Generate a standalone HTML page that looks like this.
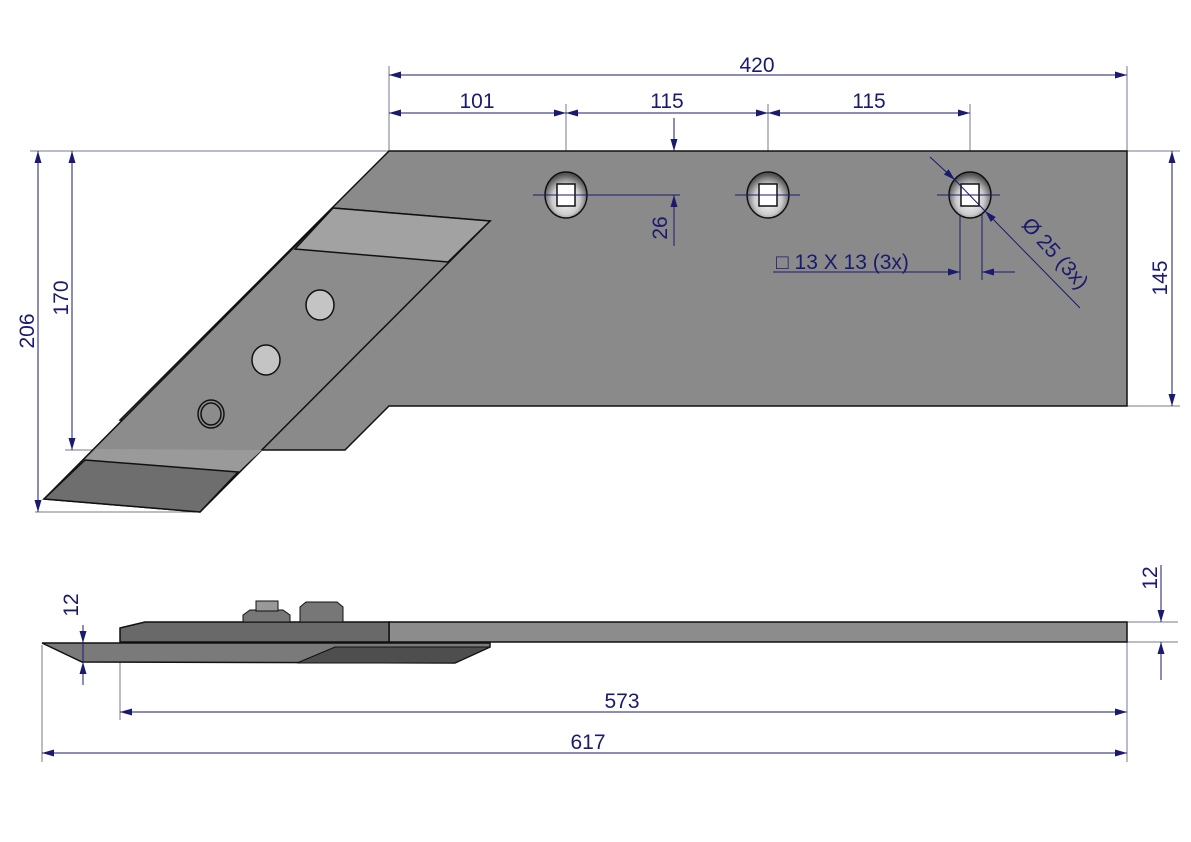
<!DOCTYPE html>
<html><head><meta charset="utf-8"><style>
html,body{margin:0;padding:0;background:#fff}
svg{display:block}
text{font-family:"Liberation Sans",sans-serif;font-size:21px;fill:#1a1a6e}
</style></head><body>
<svg width="1191" height="842" viewBox="0 0 1191 842" xmlns="http://www.w3.org/2000/svg">
<defs>
<marker id="a" viewBox="0 0 12 7" refX="12" refY="3.5" markerWidth="12" markerHeight="7" orient="auto-start-reverse" markerUnits="userSpaceOnUse"><path d="M0,0L12,3.5L0,7z" fill="#1a1a6e"/></marker>
<radialGradient id="h" cx="50%" cy="60%" r="55%"><stop offset="0" stop-color="#fff"/><stop offset="0.6" stop-color="#ccc"/><stop offset="1" stop-color="#555"/></radialGradient>
</defs>
<g stroke="#7a7a90" stroke-width="1" fill="none">
<line x1="389" y1="66" x2="389" y2="151"/><line x1="1127" y1="66" x2="1127" y2="151"/>
<line x1="566" y1="104" x2="566" y2="228"/><line x1="768" y1="104" x2="768" y2="228"/><line x1="970" y1="104" x2="970" y2="228"/>
<line x1="30" y1="151" x2="389" y2="151"/><line x1="35" y1="512" x2="200" y2="512"/><line x1="65" y1="450" x2="265" y2="450"/>
<line x1="1127" y1="151" x2="1180" y2="151"/><line x1="1127" y1="406" x2="1180" y2="406"/>
</g>
<polygon points="389,151 1127,151 1127,406 389,406 345,450 262,450 120,420" fill="#8a8a8a" stroke="#111" stroke-width="1.5"/>
<polygon points="333,208 490,221 200,512 44,499" fill="#8c8c8c" stroke="#111" stroke-width="1.5"/>
<polygon points="333,208 490,221 448,262 295,249" fill="#a2a2a2" stroke="#111" stroke-width="1.5"/>
<polygon points="96,449 262,450 238,472 85,460" fill="#9a9a9a"/>
<polygon points="85,460 238,472 200,512 44,499" fill="#6e6e6e" stroke="#111" stroke-width="1.5"/>
<g stroke="#111" stroke-width="1.5" fill="#c4c4c4">
<ellipse cx="320" cy="305" rx="14" ry="15"/><ellipse cx="266" cy="360" rx="14" ry="15"/>
<ellipse cx="211" cy="414" rx="13" ry="14" fill="#8c8c8c"/><ellipse cx="211" cy="414" rx="10" ry="11" fill="none"/>
</g>
<g stroke="#111" stroke-width="1.5">
<ellipse cx="566" cy="195" rx="21" ry="23" fill="url(#h)"/><rect x="557" y="184" width="18" height="22" fill="#fff"/>
<ellipse cx="768" cy="195" rx="21" ry="23" fill="url(#h)"/><rect x="759" y="184" width="18" height="22" fill="#fff"/>
<ellipse cx="970" cy="195" rx="21" ry="23" fill="url(#h)"/><rect x="961" y="184" width="18" height="22" fill="#fff"/>
</g>
<g stroke="#1a1a6e" stroke-width="1" fill="none">
<line x1="533" y1="195" x2="680" y2="195"/><line x1="735" y1="195" x2="800" y2="195"/><line x1="937" y1="195" x2="1000" y2="195"/>
<line x1="389" y1="75" x2="1127" y2="75" marker-start="url(#a)" marker-end="url(#a)"/>
<line x1="389" y1="113" x2="566" y2="113" marker-start="url(#a)" marker-end="url(#a)"/>
<line x1="566" y1="113" x2="768" y2="113" marker-start="url(#a)" marker-end="url(#a)"/>
<line x1="768" y1="113" x2="970" y2="113" marker-start="url(#a)" marker-end="url(#a)"/>
<line x1="38" y1="151" x2="38" y2="512" marker-start="url(#a)" marker-end="url(#a)"/>
<line x1="72" y1="151" x2="72" y2="450" marker-start="url(#a)" marker-end="url(#a)"/>
<line x1="1172" y1="151" x2="1172" y2="406" marker-start="url(#a)" marker-end="url(#a)"/>
<line x1="674" y1="118" x2="674" y2="151" marker-end="url(#a)"/>
<line x1="674" y1="246" x2="674" y2="195" marker-end="url(#a)"/>
<line x1="773" y1="272" x2="960" y2="272" marker-end="url(#a)"/>
<line x1="1015" y1="272" x2="982" y2="272" marker-end="url(#a)"/>
<line x1="960" y1="215" x2="960" y2="280"/><line x1="982" y1="215" x2="982" y2="280"/>
<line x1="930" y1="157" x2="955" y2="180" marker-end="url(#a)"/>
<line x1="1080" y1="308" x2="985" y2="211" marker-end="url(#a)"/>
<line x1="955" y1="180" x2="985" y2="211"/>
</g>
<text x="757" y="72" text-anchor="middle">420</text>
<text x="477" y="108" text-anchor="middle">101</text>
<text x="667" y="108" text-anchor="middle">115</text>
<text x="869" y="108" text-anchor="middle">115</text>
<text transform="translate(34,331) rotate(-90)" text-anchor="middle">206</text>
<text transform="translate(68,298) rotate(-90)" text-anchor="middle">170</text>
<text transform="translate(1167,278) rotate(-90)" text-anchor="middle">145</text>
<text transform="translate(667,228) rotate(-90)" text-anchor="middle">26</text>
<text x="776" y="269">□ 13  X 13 (3x)</text>
<text transform="translate(1050,258) rotate(48)" text-anchor="middle">Ø 25  (3x)</text>
<g stroke="#7a7a90" stroke-width="1">
<line x1="42" y1="645" x2="42" y2="762"/><line x1="120" y1="645" x2="120" y2="720"/><line x1="1127" y1="642" x2="1127" y2="762"/>
<line x1="1127" y1="622" x2="1178" y2="622"/><line x1="1127" y1="642" x2="1178" y2="642"/>
</g>
<polygon points="389,622 1127,622 1127,642 389,642" fill="#8c8c8c" stroke="#111" stroke-width="1.5"/>
<polygon points="120,628 145,622 389,622 389,642 120,642" fill="#696969" stroke="#111" stroke-width="1.5"/>
<polygon points="42,643 490,643 490,647 455,663 82,662" fill="#7a7a7a" stroke="#111" stroke-width="1.5"/>
<polygon points="335,647 490,647 455,663 297,663" fill="#4e4e4e" stroke="#111" stroke-width="1"/>
<polygon points="243,615 250,610 283,610 290,615 290,622 243,622" fill="#777" stroke="#111"/>
<rect x="256" y="601" width="22" height="10" fill="#999" stroke="#111"/>
<polygon points="300,607 306,602 337,602 343,607 343,622 300,622" fill="#777" stroke="#111"/>
<g stroke="#1a1a6e" stroke-width="1" fill="none">
<line x1="120" y1="712" x2="1127" y2="712" marker-start="url(#a)" marker-end="url(#a)"/>
<line x1="42" y1="753" x2="1127" y2="753" marker-start="url(#a)" marker-end="url(#a)"/>
<line x1="83" y1="625" x2="83" y2="643" marker-end="url(#a)"/>
<line x1="83" y1="685" x2="83" y2="662" marker-end="url(#a)"/>
<line x1="83" y1="643" x2="83" y2="662"/>
<line x1="1161" y1="565" x2="1161" y2="622" marker-end="url(#a)"/>
<line x1="1161" y1="680" x2="1161" y2="642" marker-end="url(#a)"/>
</g>
<text x="622" y="708" text-anchor="middle">573</text>
<text x="588" y="749" text-anchor="middle">617</text>
<text transform="translate(78,605) rotate(-90)" text-anchor="middle">12</text>
<text transform="translate(1157,578) rotate(-90)" text-anchor="middle">12</text>
</svg>
</body></html>
